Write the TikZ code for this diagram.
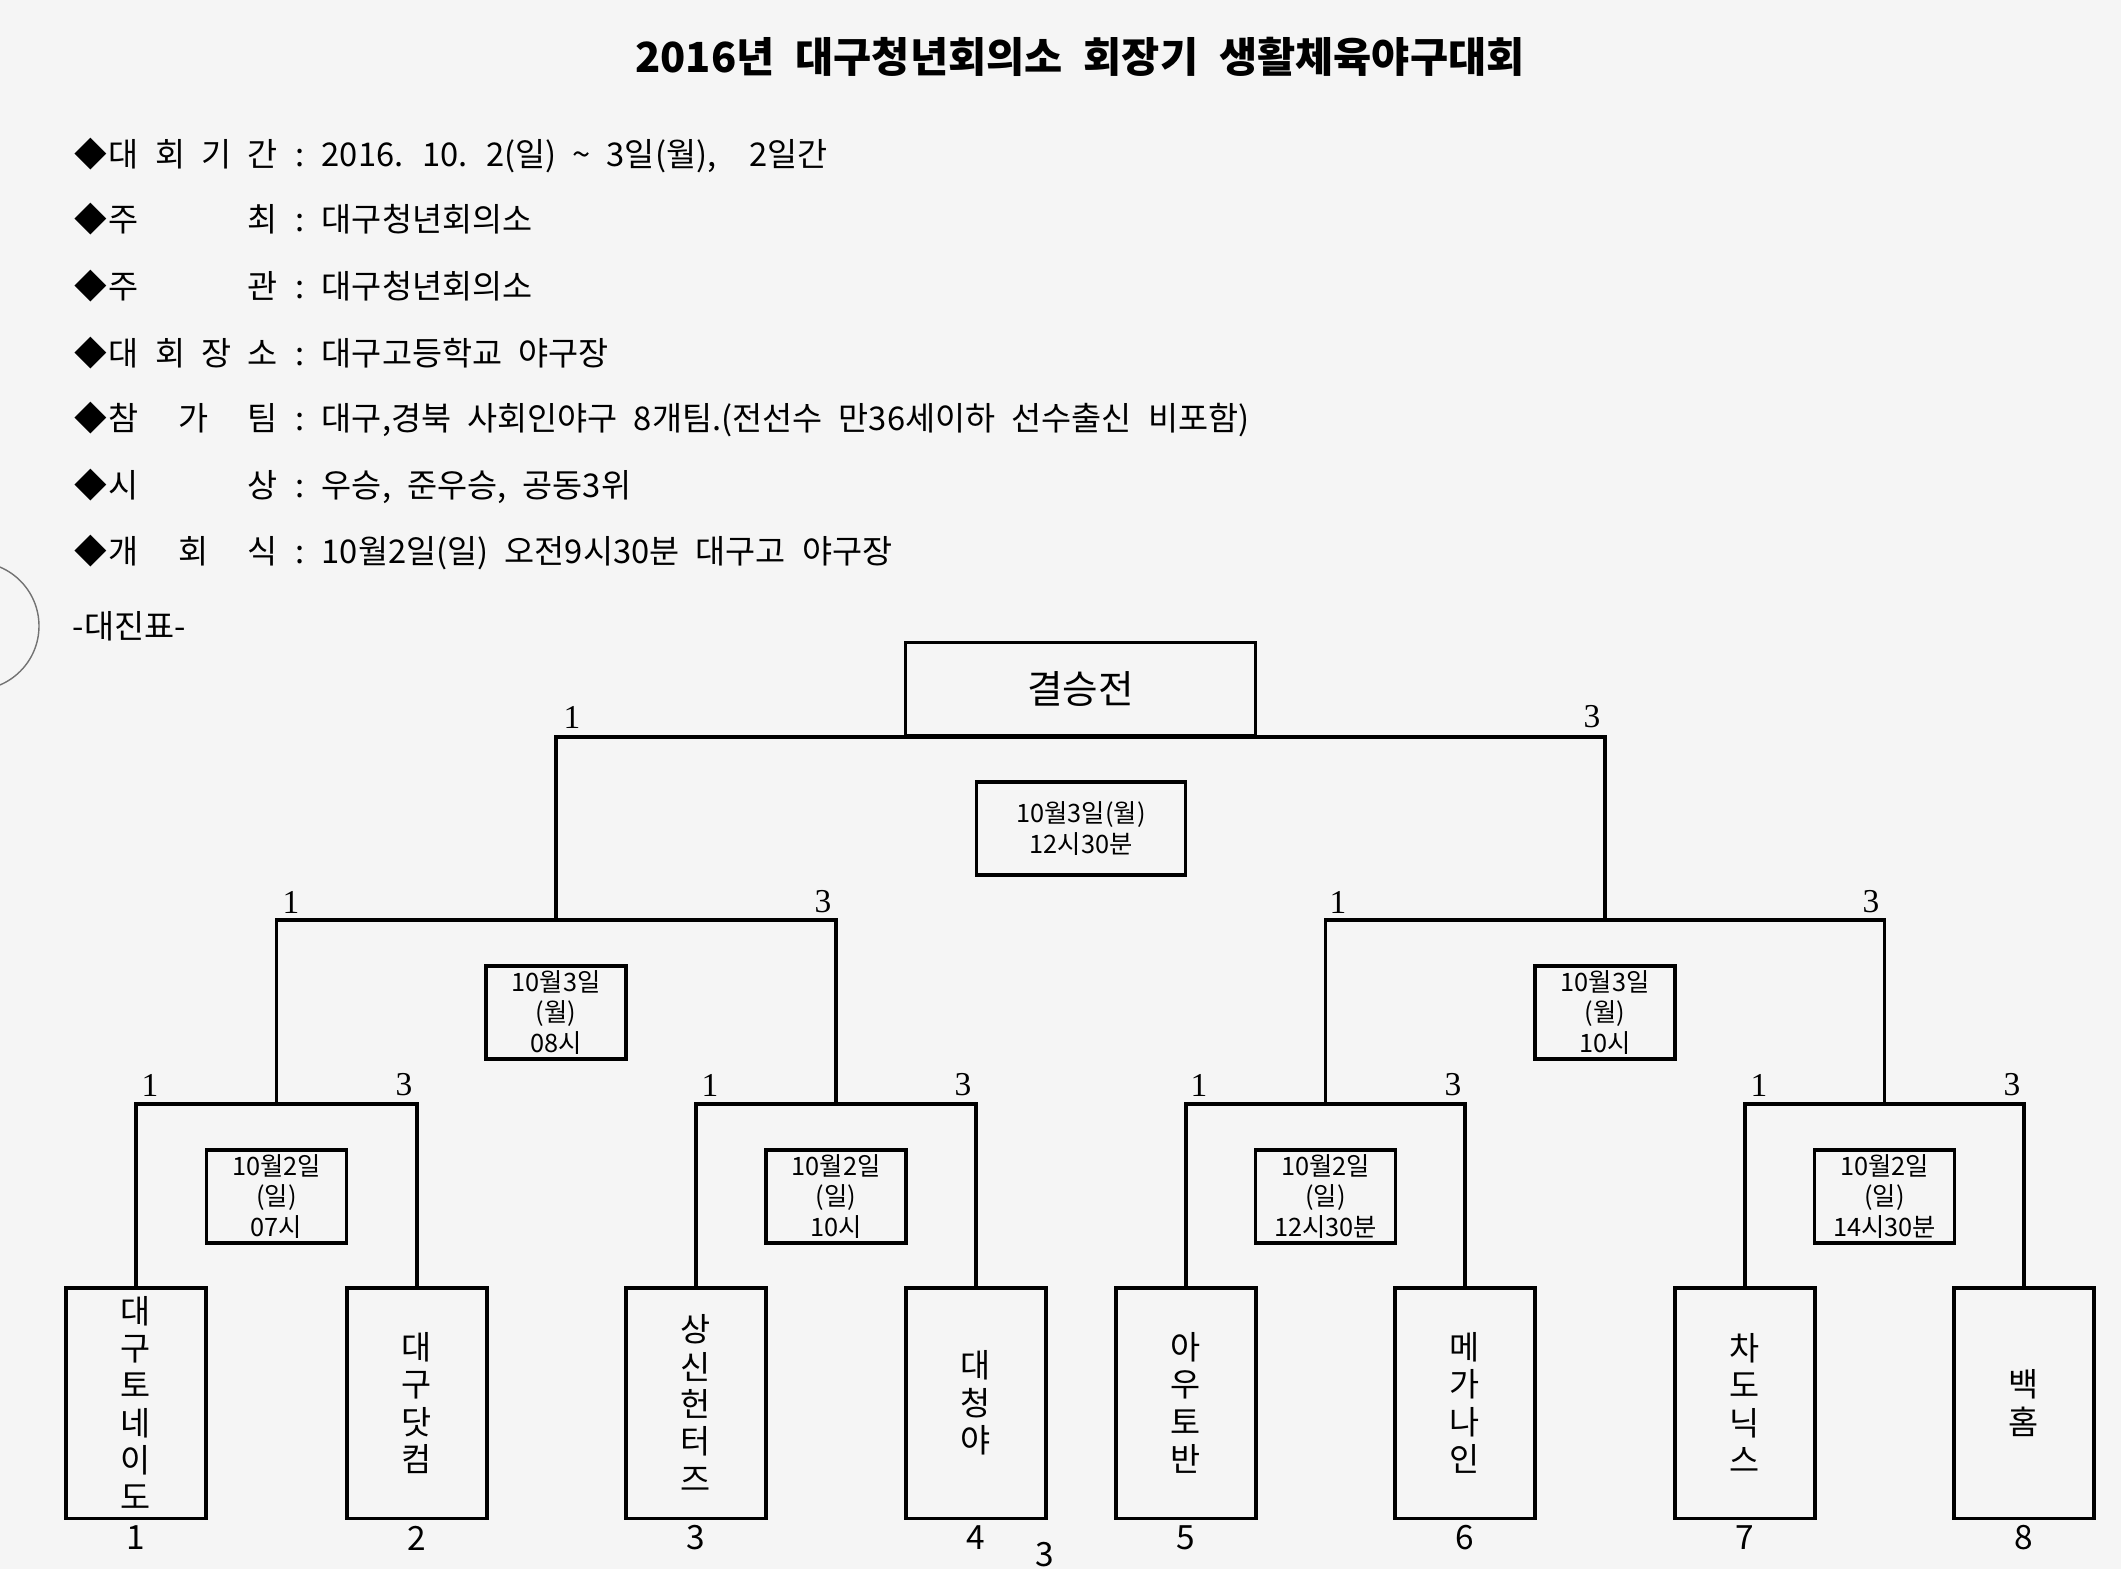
\documentclass[tikz,border=0pt]{standalone}
\usepackage{fontspec}
\setmainfont{Noto Sans CJK KR}[WordSpace=2.2]
\newfontfamily\numfont{Liberation Serif}
% voce dell'elenco: rombo, etichetta spaziata, due punti
\newcommand{\voce}[1]{\makebox[0.34cm][l]{◆}\makebox[1.69cm][s]{#1}\makebox[0.44cm]{:}}

\begin{document}
\begin{tikzpicture}[x=0.01cm, y=-0.01cm]
  % Stili per il tabellone
  \tikzset{
    riga/.style={anchor=west, inner sep=0pt, font=\fontsize{9.3}{10}\selectfont},
    squadra/.style={draw, line width=0.9pt, minimum width=1.4cm, minimum height=2.3cm, inner sep=0pt, align=center, font=\fontsize{9.3}{10.6}\selectfont},
    orario/.style={draw, line width=0.9pt, minimum width=1.4cm, minimum height=0.93cm, inner sep=0pt, align=center, font=\fontsize{7.2}{8.8}\selectfont},
    punto/.style={inner sep=0pt, font=\numfont\fontsize{9.5}{10}\selectfont},
    numero/.style={inner sep=0pt, font=\fontsize{9.5}{10}\selectfont},
    filo/.style={line width=0.9pt}
  }

  % Foglio
  \fill[black!4] (0,0) rectangle (2121,1569);
  \useasboundingbox (0,0) rectangle (2121,1569);
  \draw[black!55, line width=0.4pt] (-25,626) circle[radius=64];

  % Titolo e informazioni
  \node[font=\fontsize{11.8}{13}\selectfont\bfseries] (titolo) at (1080,57) {2016년 대구청년회의소 회장기 생활체육야구대회};
  \node[riga] (periodo) at (74,156) {\voce{대 회 기 간}2016. 10. 2(일) \textasciitilde{} 3일(월),\quad 2일간};
  \node[riga] (organizza) at (74,219) {\voce{주 최}대구청년회의소};
  \node[riga] (gestisce) at (74,286) {\voce{주 관}대구청년회의소};
  \node[riga] (luogo) at (74,353) {\voce{대 회 장 소}대구고등학교 야구장};
  \node[riga] (iscritti) at (74,419) {\voce{참 가 팀}대구,경북 사회인야구 8개팀.(전선수 만36세이하 선수출신 비포함)};
  \node[riga] (premi) at (74,486) {\voce{시 상}우승, 준우승, 공동3위};
  \node[riga] (apertura) at (74,552) {\voce{개 회 식}10월2일(일) 오전9시30분 대구고 야구장};
  \node[riga] (tabellone) at (72,626) {-대진표-};

  % Squadre
  \node[squadra] (t1) at (136,1403) {대\\구\\토\\네\\이\\도};
  \node[squadra] (t2) at (417,1403) {대\\구\\닷\\컴};
  \node[squadra] (t3) at (696,1403) {상\\신\\헌\\터\\즈};
  \node[squadra] (t4) at (976,1403) {대\\청\\야};
  \node[squadra] (t5) at (1186,1403) {아\\우\\토\\반};
  \node[squadra] (t6) at (1465,1403) {메\\가\\나\\인};
  \node[squadra] (t7) at (1745,1403) {차\\도\\닉\\스};
  \node[squadra] (t8) at (2024,1403) {백\\홈};

  % Numeri di sorteggio
  \node[numero] (n1) at (136,1538) {1};
  \node[numero] (n2) at (417,1538) {2};
  \node[numero] (n3) at (696,1538) {3};
  \node[numero] (n4) at (976,1538) {4};
  \node[numero] (n5) at (1186,1538) {5};
  \node[numero] (n6) at (1465,1538) {6};
  \node[numero] (n7) at (1745,1538) {7};
  \node[numero] (n8) at (2024,1538) {8};
  \node[numero] (pagina) at (1045,1555) {3};

  % Punti di giunzione
  \coordinate (q1) at (276.5,1104);
  \coordinate (q2) at (836,1104);
  \coordinate (q3) at (1325.5,1104);
  \coordinate (q4) at (1884.5,1104);
  \coordinate (s1) at (556,920);
  \coordinate (s2) at (1605,920);
  \coordinate (f) at (1080.5,737);

  % Finale e orari
  \node[draw, line width=0.9pt, minimum width=3.5cm, minimum height=0.93cm, anchor=south, font=\fontsize{11}{13}\selectfont] (finale) at (f) {결승전};
  \node[orario, minimum width=2.09cm] (o7) at (1081,828.5) {10월3일(월)\\12시30분};
  \node[orario] (o5) at (556,1012.5) {10월3일\\(월)\\08시};
  \node[orario] (o6) at (1605,1012.5) {10월3일\\(월)\\10시};
  \node[orario] (o1) at (276.5,1196.5) {10월2일\\(일)\\07시};
  \node[orario] (o2) at (836,1196.5) {10월2일\\(일)\\10시};
  \node[orario] (o3) at (1325.5,1196.5) {10월2일\\(일)\\12시30분};
  \node[orario] (o4) at (1884.5,1196.5) {10월2일\\(일)\\14시30분};

  % Linee del tabellone
  \draw[filo] (t1.north) |- (q1) -| (t2.north);
  \draw[filo] (t3.north) |- (q2) -| (t4.north);
  \draw[filo] (t5.north) |- (q3) -| (t6.north);
  \draw[filo] (t7.north) |- (q4) -| (t8.north);
  \draw[filo] (q1) |- (s1) -| (q2);
  \draw[filo] (q3) |- (s2) -| (q4);
  \draw[filo] (s1) |- (f) -| (s2);

  % Turni (1 e 3)
  \node[punto] (a1) at (150,1085) {1};
  \node[punto] (b1) at (404,1085) {3};
  \node[punto] (a2) at (710,1085) {1};
  \node[punto] (b2) at (963,1085) {3};
  \node[punto] (a3) at (1199,1085) {1};
  \node[punto] (b3) at (1453,1085) {3};
  \node[punto] (a4) at (1759,1085) {1};
  \node[punto] (b4) at (2012,1085) {3};
  \node[punto] (a5) at (291,902) {1};
  \node[punto] (b5) at (823,902) {3};
  \node[punto] (a6) at (1338,902) {1};
  \node[punto] (b6) at (1871,902) {3};
  \node[punto] (a7) at (572,717) {1};
  \node[punto] (b7) at (1592,717) {3};
\end{tikzpicture}
\end{document}
